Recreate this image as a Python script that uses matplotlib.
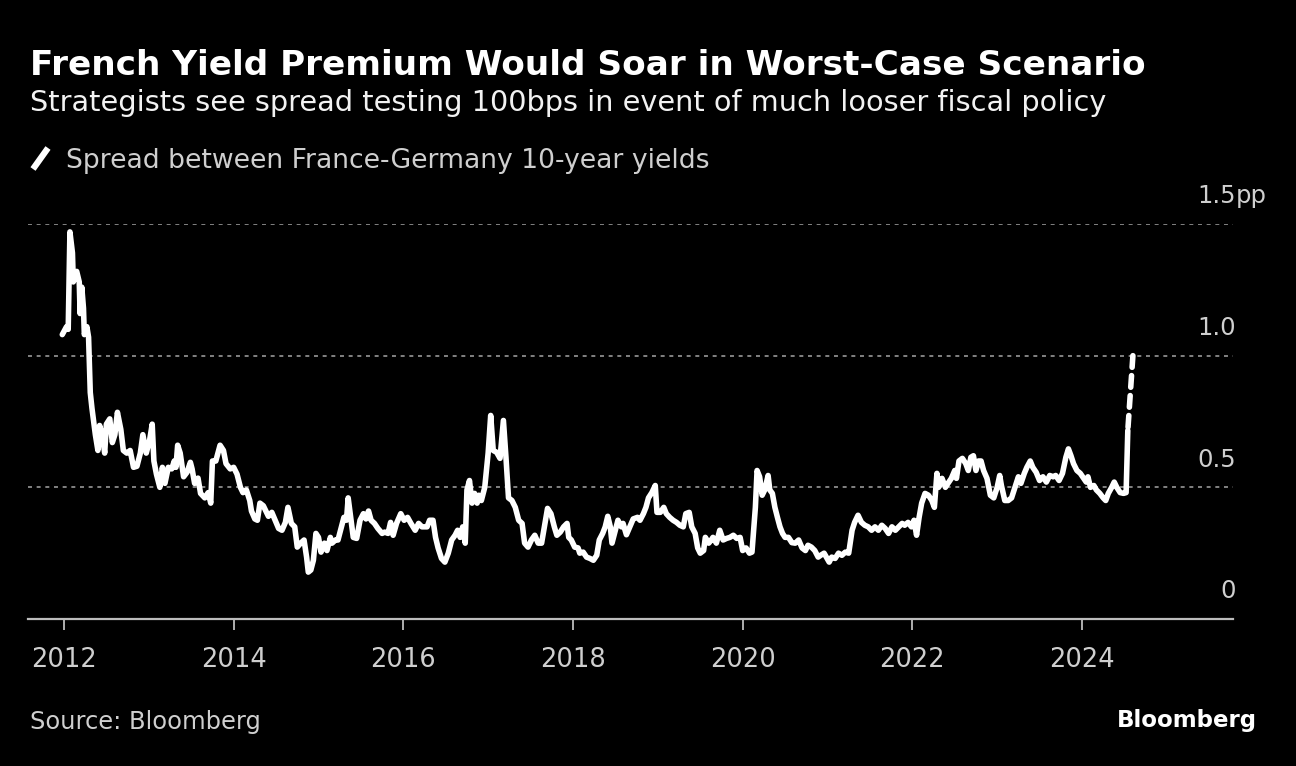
import matplotlib
matplotlib.use('Agg')
import matplotlib.pyplot as plt
from matplotlib.lines import Line2D

# spread between France-Germany 10-year yields (pp)
years = [2011.98, 2012.03, 2012.05, 2012.07, 2012.10, 2012.11, 2012.15, 2012.18, 2012.19, 2012.21,
         2012.23, 2012.24, 2012.27, 2012.29, 2012.31, 2012.33, 2012.37, 2012.40, 2012.42, 2012.45,
         2012.48, 2012.50, 2012.54, 2012.57, 2012.60, 2012.63, 2012.67, 2012.70, 2012.74, 2012.78,
         2012.82, 2012.86, 2012.90, 2012.93, 2012.97, 2013.01, 2013.04, 2013.06, 2013.09, 2013.13,
         2013.16, 2013.19, 2013.23, 2013.27, 2013.30, 2013.32, 2013.34, 2013.37, 2013.41, 2013.45,
         2013.49, 2013.51, 2013.54, 2013.58, 2013.61, 2013.66, 2013.70, 2013.73, 2013.75, 2013.79,
         2013.84, 2013.88, 2013.91, 2013.96, 2014.00, 2014.04, 2014.08, 2014.11, 2014.15, 2014.19,
         2014.21, 2014.25, 2014.28, 2014.31, 2014.35, 2014.38, 2014.41, 2014.45, 2014.49, 2014.53,
         2014.57, 2014.61, 2014.64, 2014.68, 2014.72, 2014.75, 2014.79, 2014.83, 2014.86, 2014.88,
         2014.91, 2014.94, 2014.97, 2015.00, 2015.03, 2015.07, 2015.10, 2015.14, 2015.16, 2015.20,
         2015.23, 2015.27, 2015.30, 2015.33, 2015.35, 2015.38, 2015.41, 2015.45, 2015.49, 2015.53,
         2015.56, 2015.59, 2015.62, 2015.66, 2015.70, 2015.75, 2015.78, 2015.82, 2015.85, 2015.88,
         2015.92, 2015.97, 2016.01, 2016.05, 2016.09, 2016.14, 2016.18, 2016.22, 2016.28, 2016.31,
         2016.35, 2016.38, 2016.41, 2016.45, 2016.49, 2016.53, 2016.57, 2016.61, 2016.64, 2016.67,
         2016.70, 2016.73, 2016.75, 2016.78, 2016.81, 2016.84, 2016.87, 2016.89, 2016.92, 2016.96,
         2017.00, 2017.03, 2017.06, 2017.10, 2017.14, 2017.18, 2017.21, 2017.24, 2017.28, 2017.32,
         2017.36, 2017.40, 2017.43, 2017.47, 2017.51, 2017.55, 2017.59, 2017.63, 2017.67, 2017.70,
         2017.74, 2017.78, 2017.81, 2017.85, 2017.89, 2017.93, 2017.95, 2017.98, 2018.02, 2018.06,
         2018.08, 2018.12, 2018.16, 2018.20, 2018.24, 2018.28, 2018.31, 2018.35, 2018.38, 2018.41,
         2018.44, 2018.46, 2018.50, 2018.53, 2018.57, 2018.59, 2018.63, 2018.67, 2018.71, 2018.76,
         2018.79, 2018.83, 2018.86, 2018.89, 2018.93, 2018.97, 2018.99, 2019.03, 2019.07, 2019.10,
         2019.14, 2019.18, 2019.22, 2019.26, 2019.30, 2019.33, 2019.37, 2019.40, 2019.44, 2019.47,
         2019.50, 2019.54, 2019.56, 2019.60, 2019.63, 2019.65, 2019.69, 2019.73, 2019.77, 2019.81,
         2019.85, 2019.89, 2019.93, 2019.97, 2020.00, 2020.04, 2020.08, 2020.11, 2020.15, 2020.17,
         2020.20, 2020.23, 2020.26, 2020.30, 2020.32, 2020.35, 2020.38, 2020.41, 2020.44, 2020.47,
         2020.50, 2020.54, 2020.58, 2020.62, 2020.66, 2020.70, 2020.74, 2020.77, 2020.81, 2020.85,
         2020.89, 2020.92, 2020.96, 2021.02, 2021.05, 2021.09, 2021.13, 2021.17, 2021.21, 2021.25,
         2021.29, 2021.32, 2021.36, 2021.40, 2021.44, 2021.48, 2021.52, 2021.56, 2021.60, 2021.64,
         2021.68, 2021.72, 2021.76, 2021.80, 2021.84, 2021.88, 2021.91, 2021.95, 2021.99, 2022.02,
         2022.05, 2022.08, 2022.11, 2022.15, 2022.19, 2022.23, 2022.26, 2022.29, 2022.31, 2022.35,
         2022.39, 2022.42, 2022.46, 2022.50, 2022.52, 2022.55, 2022.59, 2022.63, 2022.66, 2022.69,
         2022.72, 2022.75, 2022.78, 2022.81, 2022.84, 2022.88, 2022.92, 2022.96, 2023.00, 2023.03,
         2023.05, 2023.09, 2023.13, 2023.17, 2023.21, 2023.25, 2023.28, 2023.32, 2023.35, 2023.39,
         2023.42, 2023.46, 2023.50, 2023.54, 2023.58, 2023.62, 2023.66, 2023.69, 2023.73, 2023.77,
         2023.81, 2023.84, 2023.87, 2023.90, 2023.94, 2023.98, 2024.02, 2024.05, 2024.07, 2024.10,
         2024.14, 2024.17, 2024.21, 2024.25, 2024.28, 2024.31, 2024.35, 2024.38, 2024.41, 2024.45,
         2024.49, 2024.52, 2024.54]
spread = [1.08, 1.11, 1.10, 1.47, 1.39, 1.28, 1.32, 1.28, 1.16, 1.26,
          1.18, 1.08, 1.11, 1.07, 0.86, 0.80, 0.70, 0.64, 0.735, 0.70,
          0.63, 0.74, 0.76, 0.67, 0.70, 0.785, 0.72, 0.64, 0.63, 0.64,
          0.576, 0.58, 0.63, 0.70, 0.63, 0.68, 0.74, 0.60, 0.55, 0.50,
          0.576, 0.515, 0.576, 0.57, 0.60, 0.576, 0.66, 0.63, 0.54, 0.557,
          0.595, 0.57, 0.515, 0.535, 0.477, 0.46, 0.48, 0.44, 0.60, 0.60,
          0.66, 0.64, 0.59, 0.57, 0.576, 0.55, 0.50, 0.48, 0.49, 0.45,
          0.41, 0.38, 0.375, 0.44, 0.43, 0.41, 0.39, 0.405, 0.375, 0.344,
          0.337, 0.367, 0.424, 0.363, 0.35, 0.273, 0.288, 0.30, 0.235, 0.178,
          0.186, 0.223, 0.325, 0.31, 0.254, 0.288, 0.26, 0.31, 0.288, 0.30,
          0.30, 0.35, 0.386, 0.375, 0.46, 0.386, 0.31, 0.306, 0.375, 0.40,
          0.38, 0.41, 0.375, 0.363, 0.344, 0.325, 0.33, 0.325, 0.367, 0.318,
          0.363, 0.40, 0.375, 0.386, 0.363, 0.337, 0.363, 0.35, 0.35, 0.375,
          0.375, 0.31, 0.27, 0.23, 0.216, 0.25, 0.30, 0.318, 0.337, 0.31,
          0.35, 0.288, 0.49, 0.526, 0.44, 0.477, 0.44, 0.47, 0.45, 0.50,
          0.63, 0.773, 0.64, 0.633, 0.61, 0.754, 0.614, 0.46, 0.45, 0.424,
          0.375, 0.363, 0.288, 0.273, 0.30, 0.318, 0.288, 0.288, 0.363, 0.42,
          0.40, 0.35, 0.318, 0.33, 0.35, 0.363, 0.31, 0.30, 0.273, 0.27,
          0.25, 0.254, 0.235, 0.23, 0.223, 0.242, 0.30, 0.325, 0.35, 0.39,
          0.35, 0.288, 0.337, 0.375, 0.35, 0.363, 0.32, 0.35, 0.38, 0.386,
          0.375, 0.40, 0.424, 0.46, 0.48, 0.507, 0.405, 0.405, 0.424, 0.40,
          0.386, 0.375, 0.367, 0.356, 0.35, 0.40, 0.405, 0.35, 0.325, 0.27,
          0.25, 0.26, 0.31, 0.288, 0.30, 0.31, 0.288, 0.337, 0.30, 0.306,
          0.31, 0.318, 0.306, 0.31, 0.26, 0.27, 0.25, 0.254, 0.424, 0.564,
          0.54, 0.47, 0.49, 0.545, 0.49, 0.477, 0.424, 0.386, 0.35, 0.325,
          0.31, 0.31, 0.29, 0.288, 0.30, 0.27, 0.26, 0.28, 0.273, 0.26,
          0.235, 0.242, 0.25, 0.216, 0.235, 0.23, 0.25, 0.242, 0.254, 0.25,
          0.337, 0.367, 0.394, 0.367, 0.356, 0.35, 0.337, 0.35, 0.337, 0.356,
          0.344, 0.325, 0.35, 0.337, 0.35, 0.363, 0.356, 0.367, 0.35, 0.375,
          0.318, 0.386, 0.44, 0.477, 0.47, 0.45, 0.424, 0.553, 0.50, 0.534,
          0.50, 0.515, 0.534, 0.564, 0.534, 0.60, 0.61, 0.59, 0.564, 0.614,
          0.62, 0.564, 0.60, 0.60, 0.564, 0.534, 0.47, 0.46, 0.50, 0.545,
          0.507, 0.45, 0.45, 0.46, 0.50, 0.54, 0.515, 0.553, 0.576, 0.60,
          0.576, 0.557, 0.526, 0.54, 0.52, 0.545, 0.54, 0.545, 0.526, 0.553,
          0.614, 0.646, 0.62, 0.59, 0.564, 0.553, 0.534, 0.52, 0.54, 0.50,
          0.507, 0.49, 0.477, 0.46, 0.45, 0.477, 0.50, 0.52, 0.50, 0.48,
          0.477, 0.48, 0.716]

# worst-case scenario: dashed jump to ~100bps (listed top first so a dash sits at the tip)
proj_years = [2024.60, 2024.54]
proj_spread = [1.0, 0.716]

xticks = [2012, 2014, 2016, 2018, 2020, 2022, 2024]
yticks = [0, 0.5, 1.0, 1.5]
ytick_labels = ['0', '0.5', '1.0', '1.5']
unit = 'pp'

BG = '#000000'
GREY = '#cfcfcf'

plt.rcParams['font.family'] = ['DejaVu Sans']

fig = plt.figure(figsize=(12.96, 7.66), dpi=100, facecolor=BG)
ax = fig.add_axes([28 / 1296, 1 - 619 / 766, (1233 - 28) / 1296, (619 - 224) / 766])
ax.set_facecolor(BG)

ax.plot(years, spread, color='white', lw=4.0, solid_joinstyle='round', solid_capstyle='round', zorder=3)
ax.plot(proj_years, proj_spread, color='white', lw=4.0, linestyle=(0, (2.1, 1.5)),
        dash_capstyle='round', zorder=3)

ax.set_xlim(2011.576, 2025.78)
ax.set_ylim(0, 1.5)

# dotted gridlines
for v in yticks[1:]:
    ax.axhline(v, color='#8c8c8c', lw=1.3, linestyle=(0, (2.2, 2.6)), zorder=1)

for s in ['top', 'left', 'right']:
    ax.spines[s].set_visible(False)
ax.spines['bottom'].set_color('#bdbdbd')
ax.spines['bottom'].set_linewidth(1.6)

ax.set_xticks(xticks)
ax.set_xticklabels([str(t) for t in xticks])
ax.tick_params(axis='x', colors='#bdbdbd', labelcolor=GREY, length=8, width=1.3,
               pad=12, labelsize=18.5)
ax.set_yticks([])

# y labels sit above the gridlines on the right
for v, lab in zip(yticks, ytick_labels):
    ax.annotate(lab, xy=(1, v), xycoords=('axes fraction', 'data'), xytext=(2, 20),
                textcoords='offset points', ha='right', va='center', color=GREY, fontsize=17.5)
ax.annotate(unit, xy=(1, yticks[-1]), xycoords=('axes fraction', 'data'), xytext=(2, 20),
            textcoords='offset points', ha='left', va='center', color=GREY, fontsize=17.5)

fig.text(30 / 1296, 1 - 75 / 766, 'French Yield Premium Would Soar in Worst-Case Scenario',
         color='white', fontsize=24.7, fontweight='bold', ha='left', va='baseline')
fig.text(30 / 1296, 1 - 111 / 766,
         'Strategists see spread testing 100bps in event of much looser fiscal policy',
         color='#f2f2f2', fontsize=20.7, ha='left', va='baseline')

# legend: slanted white stroke + label
fig.add_artist(Line2D([33 / 1296, 48 / 1296], [1 - 169 / 766, 1 - 148 / 766],
                      transform=fig.transFigure, color='white', lw=4.5, solid_capstyle='butt'))
fig.text(66 / 1296, 1 - 168 / 766, 'Spread between France-Germany 10-year yields',
         color=GREY, fontsize=19.2, ha='left', va='baseline')

fig.text(30 / 1296, 1 - 722 / 766, 'Source: Bloomberg', color=GREY, fontsize=17.4,
         ha='left', va='center')
fig.text(1257 / 1296, 1 - 720 / 766, 'Bloomberg', color='white', fontsize=16.5,
         fontweight='bold', ha='right', va='center')

fig.savefig('out.png', dpi=100, facecolor=BG)
